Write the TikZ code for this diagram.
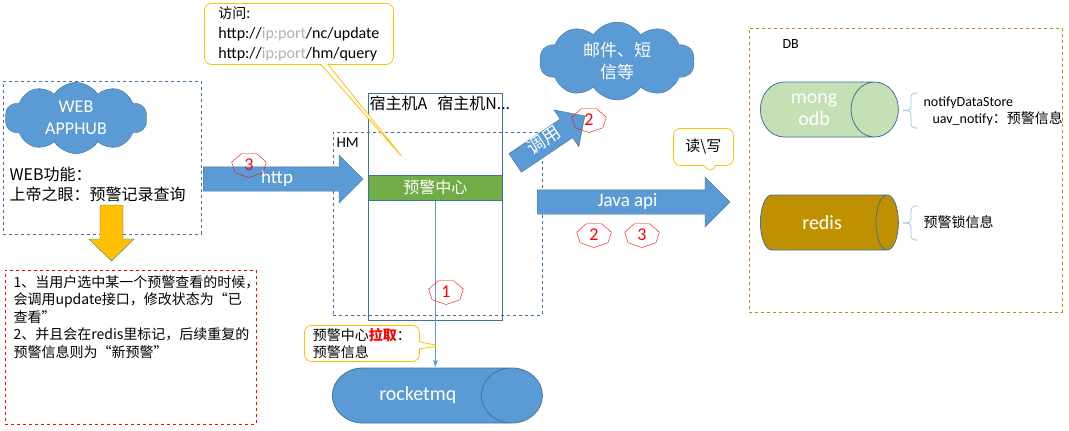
\documentclass[tikz,border=0pt]{standalone}
\usepackage{fontspec}
\setmainfont{Noto Sans CJK SC}
\newfontfamily\latin{Carlito}
\usetikzlibrary{shapes.geometric,shapes.symbols,shapes.arrows,shapes.callouts,arrows.meta,positioning}

\definecolor{lineblue}{HTML}{41719C}
\definecolor{fillblue}{HTML}{5B9BD5}
\definecolor{lightblue}{HTML}{9DC3E6}
\definecolor{barGreen}{HTML}{70AD47}
\definecolor{gold}{HTML}{FFC000}
\definecolor{mongoGreen}{HTML}{C5E0B4}
\definecolor{redisGold}{HTML}{BF9000}

\newcommand{\fs}[1]{\fontsize{#1}{\fpeval{1.25*#1}}\selectfont}

\begin{document}
\begin{tikzpicture}[x=1pt,y=-1pt,font=\fs{14},
  dashbox/.style={draw=lineblue, dashed, thick, anchor=north west},
  cloudy/.style={cloud, cloud puffs=10, cloud puff arc=115, cloud ignores aspect, draw=lineblue, fill=fillblue, text=white, align=center},
  flowarrow/.style={single arrow, anchor=tail, draw=lineblue, fill=fillblue, text=white, single arrow head extend=12, inner ysep=4, inner xsep=2, text height=12, text depth=4, font=\latin\fs{19}},
  tube/.style={cylinder, anchor=bottom, draw=lineblue, thick, text=white, inner sep=1, font=\latin\fontsize{20}{22}\selectfont, align=center},
  bubble/.style={rectangle callout, rounded corners=7, draw=gold, thick, fill=white, anchor=north west, align=left},
  heptag/.style={regular polygon, regular polygon sides=7, shape border rotate=180, draw=red, minimum size=25, inner sep=0, xscale=1.42},
  bracket/.style={draw=lightblue, thick, rounded corners=4}]
\useasboundingbox (0,0) rectangle (1069,431);

% web client
\node[dashbox, minimum width=198, minimum height=153] (web) at (3,81) {};
\node[cloudy, minimum width=142, minimum height=63, font=\latin\fs{18}] (apphub) at (76,118) {WEB\\APPHUB};
\node[anchor=north west, align=left, font=\fs{16}] (webtext) at (6,163) {WEB功能：\\上帝之眼：预警记录查询};
\draw[draw=lineblue, fill=gold] (100,205) -- (123,205) -- (123,239) -- (134,239) -- (111.5,261)
  -- (89,239) -- (100,239) -- cycle;
\node[anchor=north west, draw=red, dashed, thick, minimum width=251, minimum height=154] (notes) at (5,270) {};
\node[anchor=north west, align=left, font=\fs{14}] (notetext) at (10,272) {1、当用户选中某一个预警查看的时候，\\会调用update接口，修改状态为“已\\查看”\\2、并且会在redis里标记，后续重复的\\预警信息则为“新预警”};

% hosts
\node[anchor=north west, draw=lineblue, thick, minimum width=134, minimum height=227] (host) at (368,93) {};
\node[anchor=north west, font=\fs{16}] (hostlbl) at (366,92) {宿主机A\hspace{10pt}宿主机N...};
\node[dashbox, minimum width=209, minimum height=183] (hm) at (333,132) {};
\node[anchor=north west, font=\latin\fs{15}] (hmlbl) at (333,134) {HM};
\node[anchor=north west, draw=lineblue, thick, fill=barGreen, text=white, minimum width=134, minimum height=25, font=\fs{16}] (alarm) at (368,175) {预警中心};
\node[flowarrow, minimum height=160] (http) at (203,179) {http};

\coordinate (hostpt) at (403,158);
\node[bubble, minimum width=189, minimum height=61, callout absolute pointer={(hostpt)}, font=\latin\fs{16}, inner xsep=6] (access) at (204,3)
  {{\rmfamily\fs{14}访问:}\\http://\textcolor{gray!60}{ip:port}/nc/update\\http://\textcolor{gray!60}{ip:port}/hm/query};

% queue
\node[tube, fill=fillblue, minimum height=210, minimum width=55, aspect=3.2] (mq) at (332,395.5) {rocketmq};
\draw[fillblue, thick, -{Latex[length=7,width=5]}] (alarm.south) -- (alarm.south |- mq.north);
\coordinate (pullpt) at (440,346);
\node[bubble, minimum width=115, minimum height=36, callout absolute pointer={(pullpt)}, inner xsep=8, inner ysep=2] (pull) at (304,325)
  {预警中心\textcolor{red}{\textbf{拉取}}：\\预警信息};

% notification
\node[cloudy, minimum width=155, minimum height=78, font=\fs{17}] (mail) at (617,61) {邮件、短\\信等};
\node[flowarrow, rotate=34, minimum height=84, inner ysep=3, single arrow head extend=11, font=\fs{18}] (call) at (515,163) {调用};
\node[flowarrow, minimum height=193, single arrow head extend=13] (java) at (537,202) {Java api};
\coordinate (rwpt) at (712,173);
\node[bubble, minimum width=60, minimum height=37, callout absolute pointer={(rwpt)}, callout pointer width=12, font=\fs{15}] (rw) at (673,128) {读\textbackslash 写};

% step tags
\foreach \n/\x/\y/\t in {tagA/249/165/3, tagB/446/292/1, tagC/589/120/2, tagD/594/235/2, tagE/642/235/3}{
  \node[heptag] (\n) at (\x,\y) {};
  \node[red, font=\latin\fs{18}] at (\n) {\t};
}

% databases
\node[anchor=north west, draw=redisGold, dashed, thick, minimum width=313, minimum height=284] (db) at (749,28) {};
\node[anchor=north west, font=\latin\fs{14}] (dblbl) at (779,36) {DB};
\node[tube, fill=mongoGreen, minimum height=138, minimum width=55, aspect=1.4] (mongo) at (760,109.5) {mong\\odb};
\node[tube, fill=redisGold, minimum height=138, minimum width=55, aspect=1.4] (redis) at (760,222.5) {redis};
\node[anchor=north west, align=left, font=\fs{14}] (mongonote) at (920,93) {{\latin\fs{14}notifyDataStore}\\\hspace{9pt}{\latin\fs{14}uav\_notify}：预警信息};
\node[anchor=west, font=\fs{14}] (redisnote) at (920,222) {预警锁信息};
\draw[bracket] (918,93) -| (911,110.5) -- (903,110.5);
\draw[bracket] (903,110.5) -- (911,110.5) |- (918,128);
\draw[bracket] (918,206) -| (911,223) -- (903,223);
\draw[bracket] (903,223) -- (911,223) |- (918,240);
\end{tikzpicture}
\end{document}
